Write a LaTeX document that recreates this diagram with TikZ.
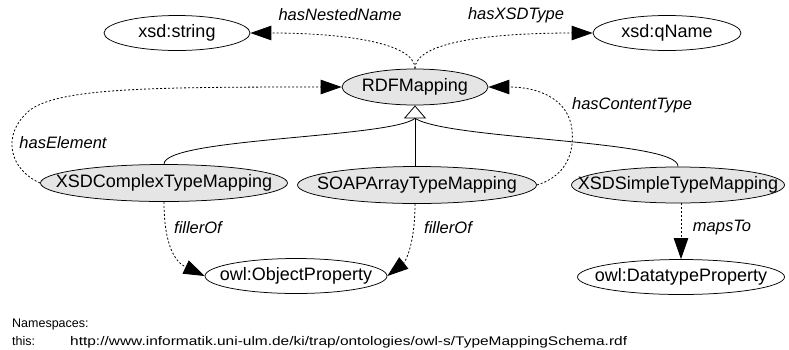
\documentclass[tikz,border=0pt]{standalone}
\usepackage{fontspec}
\setmainfont{Liberation Sans}
\usetikzlibrary{arrows.meta,shapes.geometric}
\newcommand{\tightlbl}[1]{\makebox[0pt][c]{#1}}
\begin{document}
\begin{tikzpicture}[x=1pt,y=1pt,
  term/.style={ellipse, draw=black, line width=0.75pt, fill=white, inner sep=0pt,
    font=\fontsize{18}{21}\selectfont},
  concept/.style={term, fill=black!10},
  rel/.style={draw, line width=0.8pt, dash pattern=on 2pt off 2pt,
    -{Triangle[length=21pt,width=14.5pt]}},
  isa/.style={draw, line width=0.8pt},
  lbl/.style={font=\fontsize{16.5}{19}\selectfont\itshape, inner sep=0pt},
  ns/.style={font=\fontsize{12.5}{14}\selectfont, inner sep=0pt}
]
\useasboundingbox (0,0) rectangle (789,-349);

% nodes
\node[term, minimum width=146pt, minimum height=35pt] (xs) at (177,-33) {\tightlbl{xsd:string}};
\node[term, minimum width=148pt, minimum height=35pt] (xq) at (667,-33) {\tightlbl{xsd:qName}};
\node[concept, minimum width=146pt, minimum height=36pt] (rdf) at (415,-87) {\tightlbl{RDFMapping}};
\node[concept, minimum width=247pt, minimum height=37pt] (xc) at (164,-183) {\tightlbl{XSDComplexTypeMapping}};
\node[concept, minimum width=239pt, minimum height=37pt] (soap) at (417,-185) {\tightlbl{SOAPArrayTypeMapping}};
\node[concept, minimum width=213pt, minimum height=36pt] (simple) at (678,-185) {\tightlbl{XSDSimpleTypeMapping}};
\node[term, minimum width=182pt, minimum height=35pt] (op) at (296,-276) {\tightlbl{owl:ObjectProperty}};
\node[term, minimum width=207pt, minimum height=35pt] (dp) at (681,-277) {\tightlbl{owl:DatatypeProperty}};

% labels
\node[lbl] (lNested) at (340,-15) {hasNestedName};
\node[lbl] (lXSD) at (516,-15) {hasXSDType};
\node[lbl] (lElem) at (63,-143) {hasElement};
\node[lbl] (lCont) at (632,-105) {hasContentType};
\node[lbl] (lF1) at (198,-228) {fillerOf};
\node[lbl] (lF2) at (448,-228) {fillerOf};
\node[lbl] (lMaps) at (722,-228) {mapsTo};

% namespaces
\node[ns, anchor=base west] (nshead) at (12,-327.5) {Namespaces:};
\node[ns, anchor=base west] (nsthis) at (12,-345.5) {this:};
\node[ns, anchor=base west] (nsurl) at (70,-345.5) {\scalebox{1.237}[1]{http://www.informatik.uni-ulm.de/ki/trap/ontologies/owl-s/TypeMappingSchema.rdf}};

% inheritance
\coordinate (tb) at ([yshift=-13pt]rdf.south);
\draw[isa, -{Triangle[open, length=13pt, width=22pt]}] (soap.north -| rdf.south) -- (rdf.south);
\draw[isa] (xc.north) .. controls (164,-138) and (390,-138) .. (tb);
\draw[isa] (simple.north) .. controls (680,-140) and (450,-140) .. (tb);

% relations
\draw[rel] (rdf.north) .. controls (415,-42) and (340,-33) .. (xs.east);
\draw[rel] (rdf.north) .. controls (415,-42) and (490,-33) .. (xq.west);
\draw[rel] (xc.west) .. controls (10,-170) and (0,-135) .. (30,-110) .. controls (60,-88) and (150,-87) .. (rdf.west);
\draw[rel] (soap.east) .. controls (560,-178) and (575,-160) .. (572,-130) .. controls (569,-100) and (540,-87) .. (rdf.east);
\draw[rel] (xc.south) .. controls (164,-245) and (175,-262) .. (op.west);
\draw[rel] (soap.south -| rdf.south) .. controls (415,-245) and (405,-262) .. (op.east);
\draw[rel] (simple.south -| dp.north) -- (dp.north);
\end{tikzpicture}
\end{document}
